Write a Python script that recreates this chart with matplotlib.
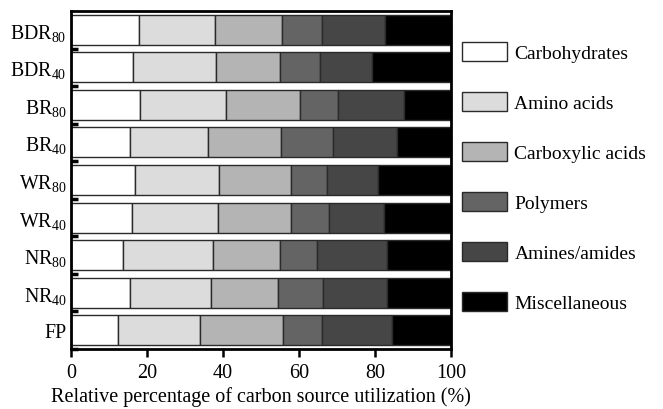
import matplotlib
matplotlib.use("Agg")
import matplotlib.pyplot as plt
from matplotlib.patches import Patch
import numpy as np

plt.rcParams['font.family'] = ['Liberation Serif', 'DejaVu Serif']
plt.rcParams['mathtext.fontset'] = 'custom'
plt.rcParams['mathtext.rm'] = 'Liberation Serif'
plt.rcParams['mathtext.it'] = 'Liberation Serif:italic'

samples = [r'BDR$_{80}$', r'BDR$_{40}$', r'BR$_{80}$', r'BR$_{40}$', r'WR$_{80}$',
           r'WR$_{40}$', r'NR$_{80}$', r'NR$_{40}$', 'FP']
groups = ['Carbohydrates', 'Amino acids', 'Carboxylic acids', 'Polymers',
          'Amines/amides', 'Miscellaneous']
carbohydrates = [18.0, 16.3, 18.2, 15.5, 16.8, 16.0, 13.8, 15.6, 12.4]
amino_acids   = [20.0, 21.9, 22.5, 20.6, 22.1, 22.7, 23.6, 21.2, 21.6]
carboxylic    = [17.5, 16.8, 19.6, 19.1, 19.1, 19.2, 17.6, 17.8, 21.7]
polymers      = [10.6, 10.4, 10.0, 13.7, 9.3, 10.0, 9.8, 11.8, 10.4]
amines        = [16.6, 13.8, 17.2, 17.0, 13.6, 14.6, 18.4, 16.8, 18.3]
misc          = [17.3, 20.8, 12.5, 14.1, 19.1, 17.5, 16.8, 16.8, 15.6]
series = [carbohydrates, amino_acids, carboxylic, polymers, amines, misc]
colors = ['#ffffff', '#dcdcdc', '#b4b4b4', '#646464', '#464646', '#000000']
xticks = [0, 20, 40, 60, 80, 100]

fig = plt.figure(figsize=(6.63, 4.10), dpi=100)
ax = fig.add_axes([71/663, 60/410, 380/663, 338/410])

y = np.arange(len(samples))
left = np.zeros(len(samples))
for vals, c in zip(series, colors):
    ax.barh(y, vals, left=left, height=0.8, color=c, edgecolor='#2a2a2a', linewidth=1.0)
    left += np.array(vals)

ax.set_xlim(0, 100)
ax.set_ylim(len(samples) - 0.5, -0.5)
ax.set_yticks(y)
ax.set_yticklabels(samples, fontsize=14.3)
ax.set_yticks(np.arange(len(samples)) + 0.5, minor=True)
ax.tick_params(axis='y', which='major', length=0, pad=3)
ax.tick_params(axis='y', which='minor', direction='in', length=5, width=2.5)
ax.set_xticks(xticks)
ax.set_xticklabels([str(t) for t in xticks], fontsize=14.5)
ax.tick_params(axis='x', direction='out', length=6, width=1.8, pad=4)
ax.set_xlabel('Relative percentage of carbon source utilization (%)', fontsize=14.5, labelpad=3)
for s in ax.spines.values():
    s.set_linewidth(2.0)

handles = [Patch(facecolor=c, edgecolor='#2a2a2a', linewidth=1.0, label=g) for g, c in zip(groups, colors)]
fig.legend(handles=handles, loc='upper left', bbox_to_anchor=(462/663, 1 - 43/410),
           frameon=False, fontsize=14, handlelength=2.3, handleheight=1.1,
           labelspacing=1.55, handletextpad=0.4, borderpad=0, borderaxespad=0)

fig.savefig('out.png', dpi=100)
